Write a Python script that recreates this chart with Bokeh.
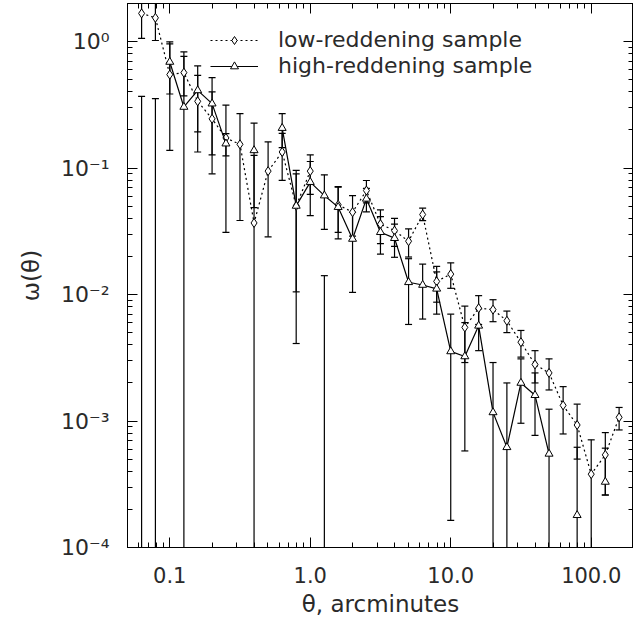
import math
from bokeh.plotting import figure
from bokeh.models import Range1d, LogAxis, FixedTicker, Legend, LegendItem
from bokeh.embed import file_html
from bokeh.resources import INLINE

nan = float("nan")

# angular separation, arcminutes
theta = [0.063, 0.079, 0.100, 0.126, 0.158, 0.200, 0.251, 0.316, 0.398, 0.501,
         0.631, 0.794, 1.00, 1.26, 1.58, 2.00, 2.51, 3.16, 3.98, 5.01,
         6.31, 7.94, 10.0, 12.6, 15.8, 20.0, 25.1, 31.6, 39.8, 50.1,
         63.1, 79.4, 100.0, 126.0, 158.0]

# low-reddening sample: w(theta), error-bar lower end (0 = below axis), upper end
low_w = [1.67, 1.54, 0.548, 0.568, 0.337, 0.245, 0.173, 0.154, 0.0368, 0.0946,
         0.134, 0.0502, 0.0946, nan, 0.0512, 0.0448, 0.0664, 0.036, 0.032, 0.0264,
         0.0429, 0.0127, 0.0145, 0.0055, 0.0078, 0.0076, 0.0062, 0.0042, 0.0028, 0.0024,
         0.00133, 0.00093, 0.00038, 0.00054, 0.00107]
low_lo = [1.06, 1.02, 0.138, 0.372, 0.134, 0.090, 0.031, 0.0385, 0.0, 0.0286,
          0.080, 0.0105, 0.062, 0.0, 0.031, 0.029, 0.053, 0.0253, 0.024, 0.0198,
          0.0384, 0.0087, 0.0112, 0.0029, 0.0058, 0.0061, 0.0050, 0.0032, 0.0020, 0.00176,
          0.00079, 0.0005, 0.0, 0.00026, 0.00085]
low_hi = [2.28, 2.06, 0.958, 0.764, 0.54, 0.40, 0.315, 0.269, 0.126, 0.161,
          0.188, 0.0899, 0.127, 0.0141, 0.0714, 0.0606, 0.0797, 0.0467, 0.040, 0.033,
          0.0482, 0.0167, 0.0178, 0.0081, 0.0098, 0.0091, 0.0074, 0.0052, 0.0036, 0.0031,
          0.00187, 0.00136, 0.00071, 0.00081, 0.00128]

# high-reddening sample
high_w = [nan, nan, 0.69, 0.304, 0.411, 0.323, 0.156, nan, 0.138, nan,
          0.207, 0.0502, 0.0774, 0.0606, 0.0491, 0.0275, 0.0571, 0.0311, 0.0279, 0.0125,
          0.0119, 0.0111, 0.00355, 0.00324, 0.00566, 0.00117, 0.00062, 0.0020, 0.0016, 0.00055,
          nan, 0.00018, nan, 0.00033, nan]
high_lo = [0.0, 0.0, 0.385, 0.0, 0.193, 0.127, 0.125, nan, 0.0487, nan,
           0.145, 0.0041, 0.0421, 0.0328, 0.0275, 0.0104, 0.045, 0.0209, 0.0197, 0.0058,
           0.0064, 0.0070, 0.000164, 0.00058, 0.0036, 0.0, 0.0, 0.00096, 0.00077, 0.0,
           nan, 0.0, nan, 0.00026, nan]
high_hi = [0.369, 0.354, 0.995, 0.829, 0.642, 0.519, 0.187, nan, 0.227, nan,
           0.269, 0.0957, 0.1127, 0.0884, 0.0707, 0.0446, 0.069, 0.0413, 0.036, 0.0192,
           0.0174, 0.0151, 0.0070, 0.0060, 0.0077, 0.0029, 0.0020, 0.0031, 0.0024, 0.00124,
           nan, 0.00062, nan, 0.00061, nan]

x_ticks = [0.1, 1.0, 10.0, 100.0]
x_tick_labels = ["0.1", "1.0", "10.0", "100.0"]
y_ticks = [1e-4, 1e-3, 1e-2, 1e-1, 1.0]
y_tick_labels = ["10\u207b\u2074", "10\u207b\u00b3", "10\u207b\u00b2", "10\u207b\u00b9", "10\u2070"]

FONT = "DejaVu Sans"
TXT = "#2a2a2a"


def minor(decades):
    out = []
    for d in decades:
        for m in range(2, 10):
            out.append(m * 10.0 ** d)
    return out


x_minor = minor(range(-2, 3))
y_minor = minor(range(-5, 1))

p = figure(width=633, height=619, x_axis_type="log", y_axis_type="log",
           x_range=Range1d(0.05, 200), y_range=Range1d(1e-4, 2.0),
           output_backend="svg", toolbar_location=None,
           min_border_left=127, min_border_right=0, min_border_top=3, min_border_bottom=0,
           background_fill_color="white", border_fill_color="white")
p.grid.visible = False
p.outline_line_color = "black"
p.outline_line_width = 1

p.xaxis.ticker = FixedTicker(ticks=x_ticks, minor_ticks=x_minor)
p.yaxis.ticker = FixedTicker(ticks=y_ticks, minor_ticks=y_minor)
p.xaxis.major_label_overrides = {t: s for t, s in zip(x_ticks, x_tick_labels)}
p.yaxis.major_label_overrides = {t: s for t, s in zip(y_ticks, y_tick_labels)}

for ax in (p.xaxis[0], p.yaxis[0]):
    ax.major_tick_in = 10
    ax.major_tick_out = 0
    ax.minor_tick_in = 5
    ax.minor_tick_out = 0
    ax.axis_line_color = "black"
    ax.major_tick_line_color = "black"
    ax.minor_tick_line_color = "black"
    ax.major_label_text_font = FONT
    ax.major_label_text_color = TXT
    ax.axis_label_text_font = FONT
    ax.axis_label_text_font_style = "normal"
    ax.axis_label_text_font_size = "23px"
    ax.axis_label_text_color = TXT

p.xaxis.major_label_text_font_size = "21px"
p.yaxis.major_label_text_font_size = "22px"
p.xaxis.axis_label = "\u03b8, arcminutes"
p.yaxis.axis_label = "\u03c9(\u03b8)"
p.xaxis.major_label_standoff = 19
p.xaxis.axis_label_standoff = 5
p.yaxis.major_label_standoff = 18
p.yaxis.axis_label_standoff = 14

for side in ("above", "right"):
    tk = FixedTicker(ticks=x_ticks, minor_ticks=x_minor) if side == "above" else \
        FixedTicker(ticks=y_ticks, minor_ticks=y_minor)
    ax = LogAxis(ticker=tk, major_tick_in=10, major_tick_out=0, minor_tick_in=5,
                 minor_tick_out=0, major_label_text_font_size="1px",
                 major_label_text_alpha=0, major_label_standoff=0,
                 axis_line_color="black")
    p.add_layout(ax, side)


def clip(v):
    return [(a if a > 0 else 1e-6) if not math.isnan(a) else nan for a in v]


def caps_low(lo):
    return [a if (not math.isnan(a) and a > 0) else nan for a in lo]


# error bars
for lo, hi in ((low_lo, low_hi), (high_lo, high_hi)):
    p.segment(x0=theta, y0=clip(lo), x1=theta, y1=hi, line_color="black", line_width=1.2)
    p.scatter(x=theta, y=hi, marker="dash", size=7, line_color="black", line_width=1.2)
    p.scatter(x=theta, y=caps_low(lo), marker="dash", size=7, line_color="black", line_width=1.2)

low_line = p.line(theta, low_w, line_color="black", line_width=1.2, line_dash="2 3")
low_pts = p.scatter(theta, low_w, marker="diamond", size=9, line_color="black",
                    fill_color="white", line_width=1)
high_line = p.line(theta, high_w, line_color="black", line_width=1.2)
high_pts = p.scatter(theta, high_w, marker="triangle", size=8, line_color="black",
                     fill_color="white", line_width=1)

legend_rows = [("low-reddening sample", [low_line, low_pts], 495),
               ("high-reddening sample", [high_line, high_pts], 469)]
for label, rends, vy in legend_rows:
    lg = Legend(items=[LegendItem(label=label, renderers=rends)],
                location=(83, vy), padding=0, margin=0, spacing=0,
                glyph_width=48, glyph_height=20, label_height=20, label_standoff=20,
                label_text_font=FONT, label_text_font_size="22px", label_text_color=TXT,
                border_line_alpha=0, background_fill_alpha=0)
    p.add_layout(lg, "center")

open("out.html", "w").write(file_html(p, INLINE))
